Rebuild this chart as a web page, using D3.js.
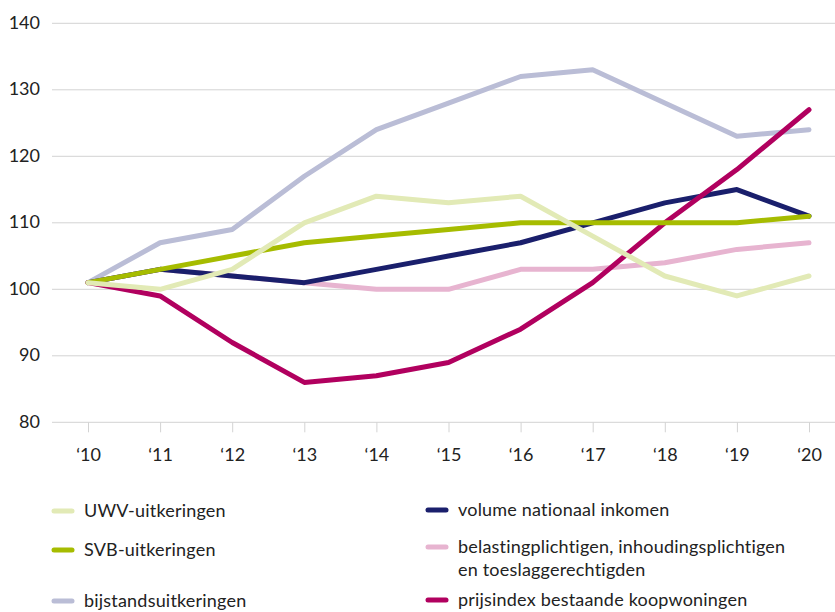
<!DOCTYPE html>
<html>
<head>
<meta charset="utf-8">
<script src="https://cdn.jsdelivr.net/npm/d3@7"></script>
<style>
	body { margin: 0; background: #fff; }
	text { font-family: Lato, 'Noto Sans', sans-serif; fill: #222; }
</style>
</head>
<body>
<div class="canvas"></div>
<script>
// data
const years = [2010, 2011, 2012, 2013, 2014, 2015, 2016, 2017, 2018, 2019, 2020];
const yearLabels = ['\u201810', '\u201811', '\u201812', '\u201813', '\u201814', '\u201815', '\u201816', '\u201817', '\u201818', '\u201819', '\u201820'];
const yTicks = [80, 90, 100, 110, 120, 130, 140];

const uwv = [101, 100, 103, 110, 114, 113, 114, 108, 102, 99, 102];
const svb = [101, 103, 105, 107, 108, 109, 110, 110, 110, 110, 111];
const bijstand = [101, 107, 109, 117, 124, 128, 132, 133, 128, 123, 124];
const volume = [101, 103, 102, 101, 103, 105, 107, 110, 113, 115, 111];
const belasting = [101, 103, 102, 101, 100, 100, 103, 103, 104, 106, 107];
const prijsindex = [101, 99, 92, 86, 87, 89, 94, 101, 110, 118, 127];

const seriesNames = ['UWV-uitkeringen', 'SVB-uitkeringen', 'bijstandsuitkeringen',
	'volume nationaal inkomen', 'belastingplichtigen, inhoudingsplichtigen en toeslaggerechtigden',
	'prijsindex bestaande koopwoningen'];
const seriesColours = ['#e2eab6', '#a6bc00', '#babdd6', '#1a1f6c', '#e7b4d0', '#b1005f'];
const seriesValues = [uwv, svb, bijstand, volume, belasting, prijsindex];

const series = seriesNames.map((name, i) => ({ name, colour: seriesColours[i], values: seriesValues[i] }));

// svg
const svg = d3.select('.canvas')
	.append('svg')
	.attr('width', 835)
	.attr('height', 612);

const x = d3.scaleLinear().domain([2010, 2020]).range([88, 809]);
const y = d3.scaleLinear().domain([80, 140]).range([422.3, 23.3]);

// gridlines
svg.append('g')
	.selectAll('line')
	.data(yTicks)
	.enter()
	.append('line')
	.attr('x1', 52)
	.attr('x2', 835)
	.attr('y1', d => y(d))
	.attr('y2', d => y(d))
	.attr('stroke', '#d3d3d3')
	.attr('stroke-width', 1);

// y labels
svg.append('g')
	.selectAll('text')
	.data(yTicks)
	.enter()
	.append('text')
	.attr('x', 40)
	.attr('y', d => y(d) - 1)
	.attr('dy', '0.35em')
	.attr('text-anchor', 'end')
	.attr('font-size', 18)
	.text(d => d);

// x axis
const xAxis = d3.axisBottom(x)
	.tickValues(years)
	.tickSize(10)
	.tickPadding(16)
	.tickFormat((d, i) => yearLabels[i]);

const xAxisGroup = svg.append('g')
	.attr('transform', `translate(0, ${y(80)})`)
	.call(xAxis);

xAxisGroup.select('.domain').remove();
xAxisGroup.selectAll('line').attr('stroke', '#d3d3d3');
xAxisGroup.selectAll('text')
	.attr('font-size', 18)
	.attr('font-family', 'Lato, sans-serif')
	.attr('fill', '#222');

// lines, drawn back to front
const line = d3.line()
	.x((d, i) => x(years[i]))
	.y(d => y(d));

const drawOrder = [2, 4, 3, 5, 1, 0];
svg.append('g')
	.selectAll('path')
	.data(drawOrder.map(i => series[i]))
	.enter()
	.append('path')
	.attr('d', d => line(d.values))
	.attr('fill', 'none')
	.attr('stroke', d => d.colour)
	.attr('stroke-width', 5)
	.attr('stroke-linecap', 'round')
	.attr('stroke-linejoin', 'round');

// legend
const legendPos = [
	{ x: 52, y: 511, lines: ['UWV-uitkeringen'] },
	{ x: 52, y: 550, lines: ['SVB-uitkeringen'] },
	{ x: 52, y: 601, lines: ['bijstandsuitkeringen'] },
	{ x: 426, y: 510, lines: ['volume nationaal inkomen'] },
	{ x: 426, y: 547, lines: ['belastingplichtigen, inhoudingsplichtigen', 'en toeslaggerechtigden'] },
	{ x: 426, y: 600, lines: ['prijsindex bestaande koopwoningen'] }
];

const legend = svg.append('g')
	.selectAll('g')
	.data(series)
	.enter()
	.append('g')
	.attr('transform', (d, i) => `translate(${legendPos[i].x}, ${legendPos[i].y})`);

legend.append('line')
	.attr('x1', 2)
	.attr('x2', 20)
	.attr('stroke', d => d.colour)
	.attr('stroke-width', 5)
	.attr('stroke-linecap', 'round');

legend.each(function (d, i) {
	const g = d3.select(this);
	legendPos[i].lines.forEach((t, j) => {
		g.append('text')
			.attr('x', 32)
			.attr('y', j * 23)
			.attr('dy', '0.35em')
			.attr('font-size', 18)
			.attr('letter-spacing', 0.2)
			.text(t);
	});
});
</script>
</body>
</html>
